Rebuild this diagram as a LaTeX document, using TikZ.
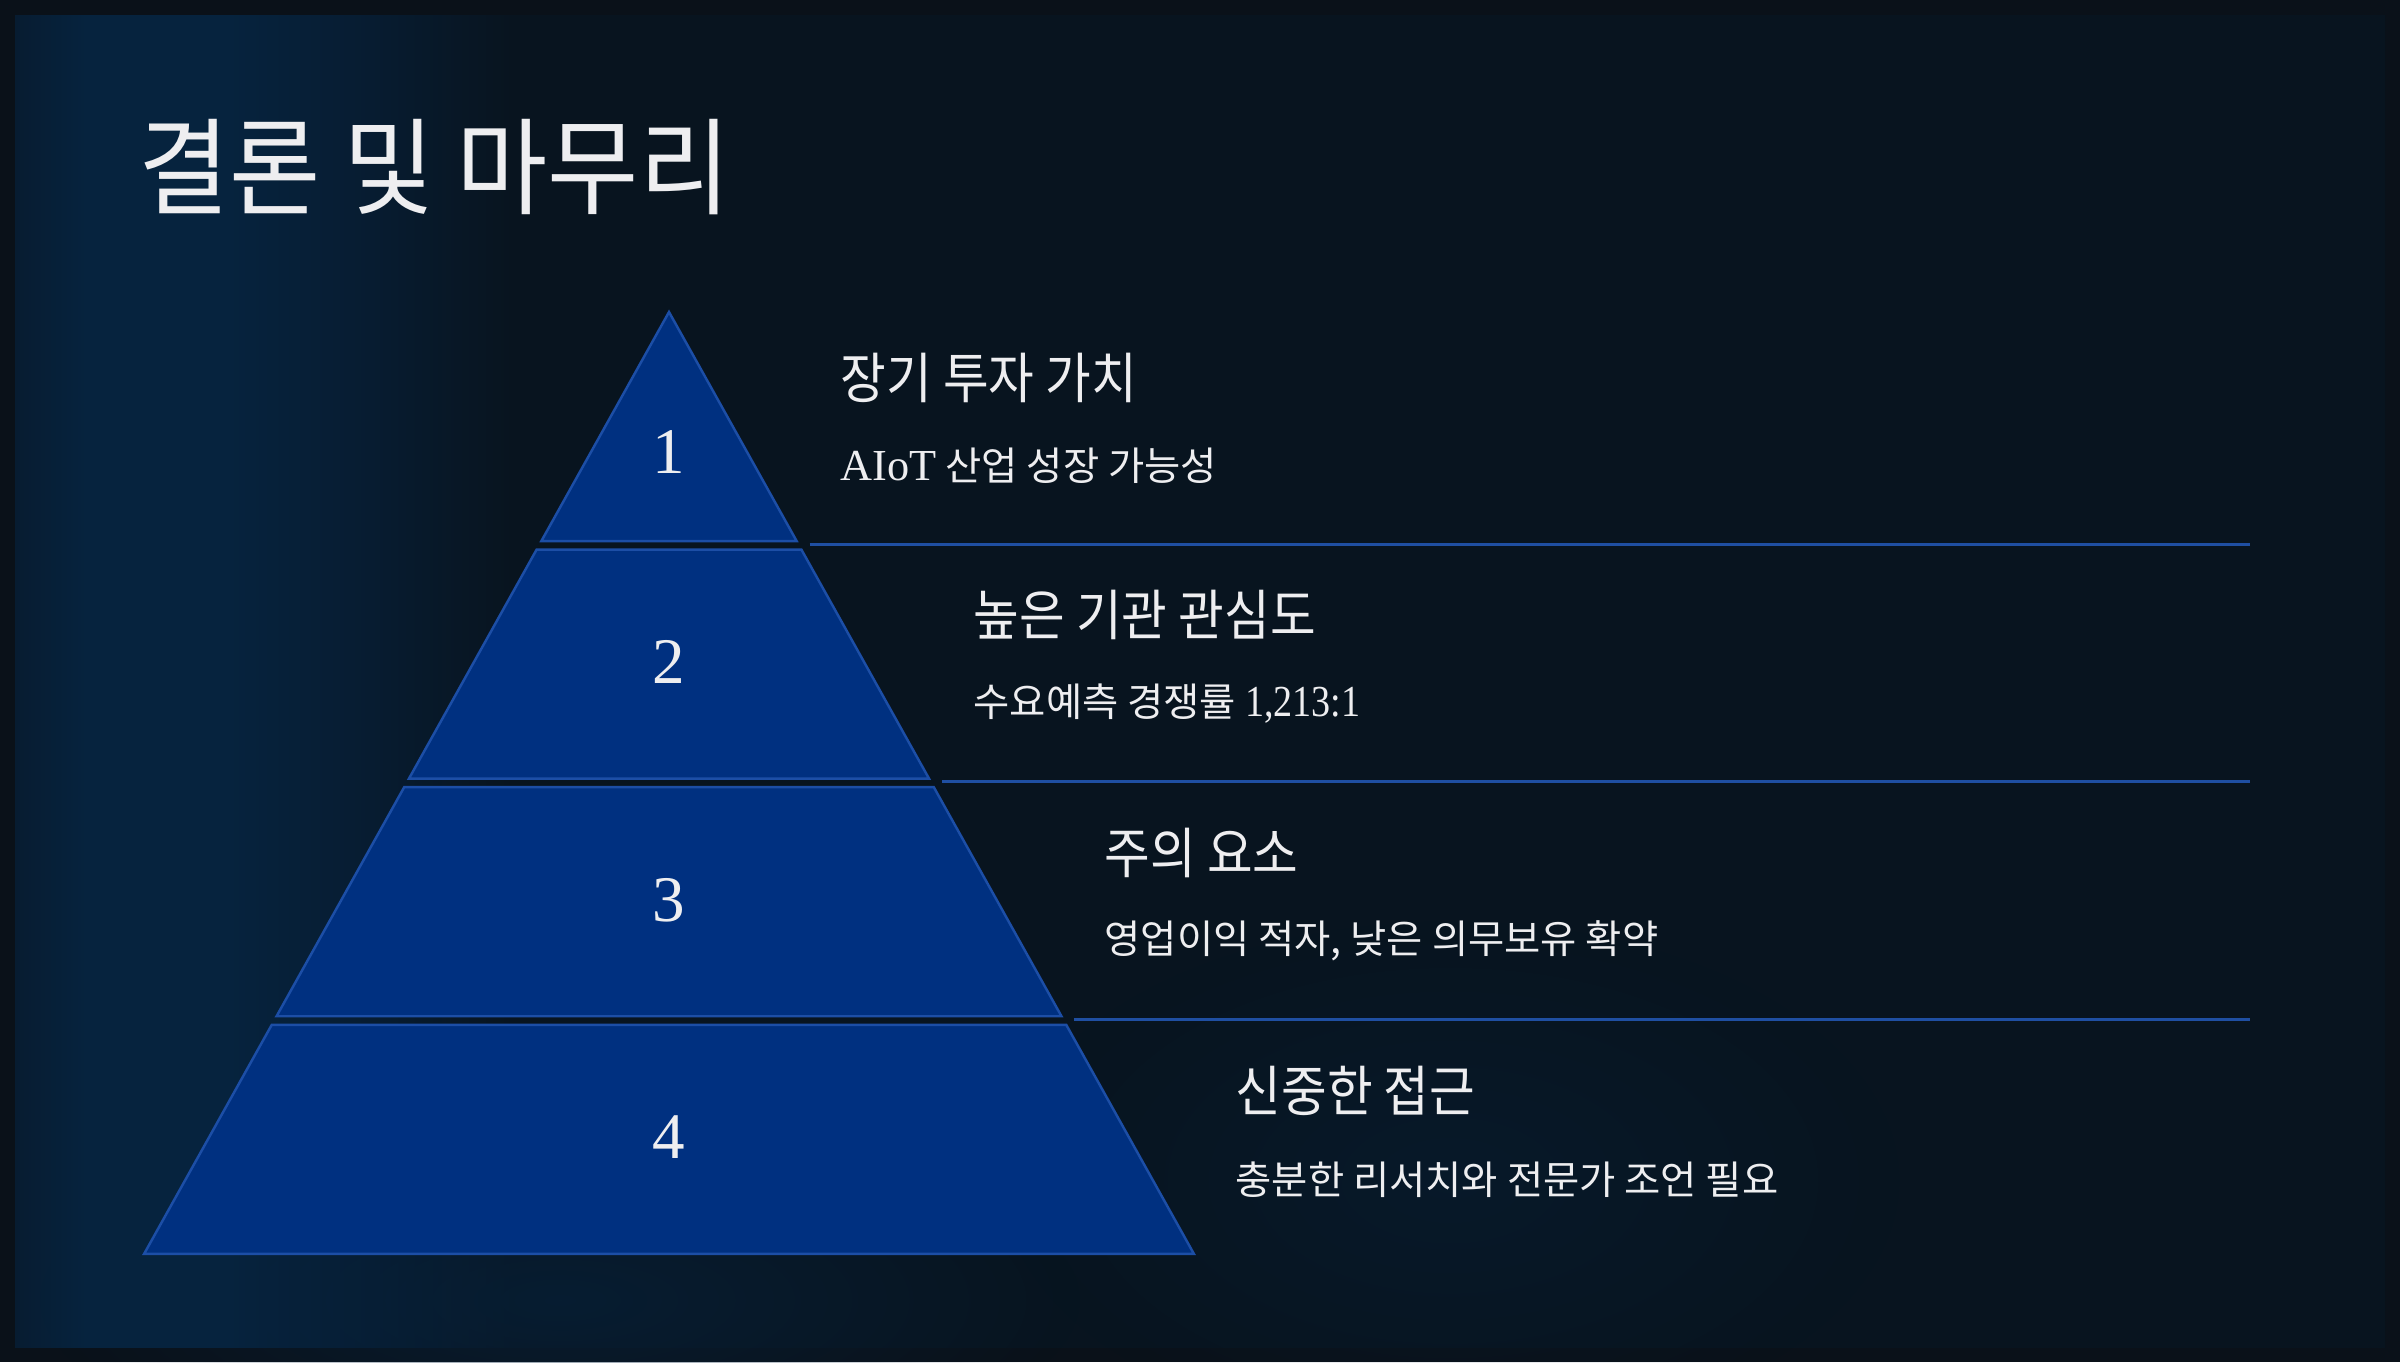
\documentclass[tikz,border=0pt]{standalone}
\usepackage{fontspec}
\usetikzlibrary{fadings}
\setmainfont{Liberation Serif}
\newfontfamily\kr[FakeStretch=0.905]{Noto Sans CJK KR}
\newfontfamily\krsub{Noto Sans CJK KR}
\newfontfamily\krtitle[FakeStretch=0.94]{Noto Sans CJK KR}
\newfontfamily\serifnarrow[FakeStretch=0.86]{Liberation Serif}

\definecolor{bgframe}{HTML}{0A1119}
\definecolor{bgdark}{HTML}{08141F}
\definecolor{bgmid}{HTML}{071C31}
\definecolor{bgglow}{HTML}{06233E}
\definecolor{layerfill}{HTML}{003080}
\definecolor{layeredge}{HTML}{1C4EA6}
\definecolor{rulecol}{HTML}{1F4FA2}
\definecolor{textcol}{HTML}{EEEEF0}

% left glow band of the slide background (visible part is 25bp..75bp)
\pgfdeclarehorizontalshading{slidebg}{100bp}{%
  color(0bp)=(bgmid); color(25bp)=(bgmid); color(26.5bp)=(bgglow);
  color(29.5bp)=(bgglow); color(32.5bp)=(bgmid); color(35.5bp)=(bgdark);
  color(100bp)=(bgdark)}
\tikzfading[name=softglow, inner color=transparent!0, outer color=transparent!100]

\tikzset{
  layer/.style={fill=layerfill, draw=layeredge, line width=0.7pt, line join=miter},
  sepline/.style={draw=rulecol, line width=0.85pt},
  numlabel/.style={text=textcol, font=\fontsize{18.5}{20}\selectfont, inner sep=0pt},
  headlabel/.style={text=textcol, font=\kr\fontsize{15.6}{18}\selectfont, anchor=west, inner sep=0pt},
  sublabel/.style={text=textcol, font=\krsub\fontsize{11.2}{13}\selectfont, anchor=west, inner sep=0pt},
}

\begin{document}
\begin{tikzpicture}[x=0.01cm, y=-0.01cm]
  \useasboundingbox (0,0) rectangle (2400,1362);

  % background
  \fill[bgframe] (0,0) rectangle (2400,1362);
  \shade[shading=slidebg] (15,15) rectangle (2385,1347);
  \fill[bgglow, opacity=0.6, path fading=softglow] (560,1300) ellipse (520 and 180);
  \fill[bgglow, opacity=0.35, path fading=softglow] (1450,1180) ellipse (450 and 260);

  % title
  \node[text=textcol, font=\krtitle\fontsize{30}{34}\selectfont, anchor=west, inner sep=0pt]
    (title) at (138,167) {결론 및 마무리};

  % pyramid: apex, slope of the sides, layer pitch and height
  \def\ax{669}
  \def\ay{312}
  \def\k{0.5573}
  \def\pitch{237.6}
  \def\lh{229}

  \foreach \i in {0,...,3} {
    \pgfmathsetmacro\yt{\ay + \i*\pitch}
    \pgfmathsetmacro\yb{\yt + \lh}
    \pgfmathsetmacro\wt{(\yt-\ay)*\k}
    \pgfmathsetmacro\wb{(\yb-\ay)*\k}
    \draw[layer] (\ax-\wt,\yt) -- (\ax+\wt,\yt) -- (\ax+\wb,\yb) -- (\ax-\wb,\yb) -- cycle;
    % separator to the right of the layer
    \ifnum\i<3
      \coordinate (rs\i) at (\ax+\wb+13,\yb+3);
      \coordinate (re\i) at (2250,\yb+3);
      \draw[sepline] (rs\i) -- (re\i);
    \fi
  }

  % numbers inside the layers
  \foreach \n/\ny in {1/452, 2/662, 3/900, 4/1137}
    \node[numlabel] (num\n) at (\ax,\ny) {\n};

  % headings and descriptions
  \node[headlabel] (head1) at (840,378) {장기 투자 가치};
  \node[sublabel]  (sub1)  at (840,466) {{\rmfamily\fontsize{12.6}{13}\selectfont AIoT} 산업 성장 가능성};

  \node[headlabel] (head2) at (973,615) {높은 기관 관심도};
  \node[sublabel]  (sub2)  at (973,704) {수요예측 경쟁률 {\serifnarrow\fontsize{12.6}{13}\selectfont 1,213:1}};

  \node[headlabel] (head3) at (1104,853) {주의 요소};
  \node[sublabel]  (sub3)  at (1104,941) {영업이익 적자, 낮은 의무보유 확약};

  \node[headlabel] (head4) at (1235,1091) {신중한 접근};
  \node[sublabel]  (sub4)  at (1235,1180) {충분한 리서치와 전문가 조언 필요};
\end{tikzpicture}
\end{document}
